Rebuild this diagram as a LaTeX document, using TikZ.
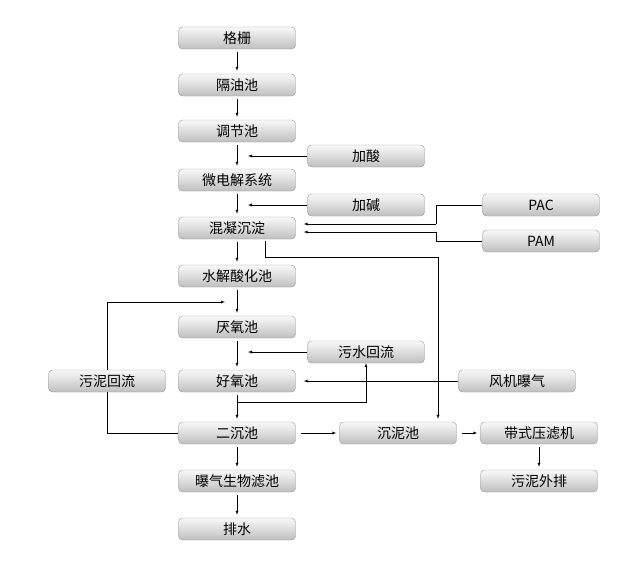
\documentclass[tikz,border=0pt]{standalone}
\usepackage{fontspec}
\setmainfont{Noto Sans CJK SC}
\usetikzlibrary{arrows, positioning, calc}

\tikzset{
  unit/.style={draw=gray!80, rounded corners=4pt, top color=gray!5, bottom color=gray!50,
    minimum width=117pt, minimum height=22pt, inner sep=0pt, font=\fontsize{14}{16}\selectfont},
  flow/.style={-latex, thin},
  line/.style={thin}
}

\begin{document}
\begin{tikzpicture}[x=1pt, y=-1pt]
    \useasboundingbox (0, 0) rectangle (617, 578);

    % main column
    \node[unit] (grille) at (237, 38) {格栅};
    \node[unit] (oil) at (237, 85) {隔油池};
    \node[unit] (adjust) at (237, 131) {调节池};
    \node[unit] (micro) at (237, 180) {微电解系统};
    \node[unit] (coag) at (237, 228) {混凝沉淀};
    \node[unit] (hydro) at (237, 276) {水解酸化池};
    \node[unit] (anaer) at (237, 327) {厌氧池};
    \node[unit] (aer) at (237, 381) {好氧池};
    \node[unit] (settle) at (237, 433) {二沉池};
    \node[unit] (biof) at (237, 481) {曝气生物滤池};
    \node[unit] (out) at (237, 529) {排水};

    % side boxes
    \node[unit] (acid) at (366, 156) {加酸};
    \node[unit] (base) at (366, 205) {加碱};
    \node[unit] (pac) at (541, 205) {PAC};
    \node[unit] (pam) at (541, 241) {PAM};
    \node[unit] (recyc) at (366, 352) {污水回流};
    \node[unit] (blower) at (517, 381) {风机曝气};
    \node[unit] (sludge) at (107, 381) {污泥回流};
    \node[unit] (tank) at (398, 433) {沉泥池};
    \node[unit] (press) at (539, 433) {带式压滤机};
    \node[unit] (waste) at (539, 481) {污泥外排};

    % main flow
    \foreach \a/\b in {grille/oil, oil/adjust, adjust/micro, micro/coag, coag/hydro,
                       hydro/anaer, anaer/aer, aer/settle, settle/biof, biof/out}
      \draw[flow] ($(\a.south)+(0,3)$) -- ($(\b.north)+(0,-3)$);

    % dosing
    \coordinate (acidin) at (248, 156);
    \coordinate (basein) at (248, 205);
    \draw[flow] (acid.west) -- (acidin);
    \draw[flow] (base.west) -- (basein);
    \draw[line] (pac.west) -- (436, 205) -- (436, 224);
    \draw[flow] (436, 224) -- ($(coag.east)+(8,-4)$);
    \draw[line] (pam.west) -- (436, 241) -- (436, 232);
    \draw[flow] (436, 232) -- ($(coag.east)+(8,4)$);

    % sludge from coagulation to tank
    \draw[flow] ($(coag.south)+(28,2)$) -- (265, 257) -- (438, 257) -- ($(tank.north)+(40,-3)$);

    % sludge return
    \draw[line] (settle.west) -- (107, 433) -- (sludge.south);
    \coordinate (anaerin) at (225, 302);
    \draw[flow] (sludge.north) -- (107, 302) -- (anaerin);

    % water return
    \coordinate (recycin) at (248, 352);
    \draw[flow] (recyc.west) -- (recycin);
    \draw[flow] (237, 402) -- (366, 402) -- (recyc.south);

    % aeration
    \draw[flow] (blower.west) -- ($(aer.east)+(8,0)$);

    % sludge treatment
    \draw[flow] ($(settle.east)+(5,0)$) -- ($(tank.west)+(-3,0)$);
    \draw[flow] ($(tank.east)+(5,0)$) -- ($(press.west)+(-3,0)$);
    \draw[flow] ($(press.south)+(0,3)$) -- ($(waste.north)+(0,-3)$);
  \end{tikzpicture}
\end{document}
